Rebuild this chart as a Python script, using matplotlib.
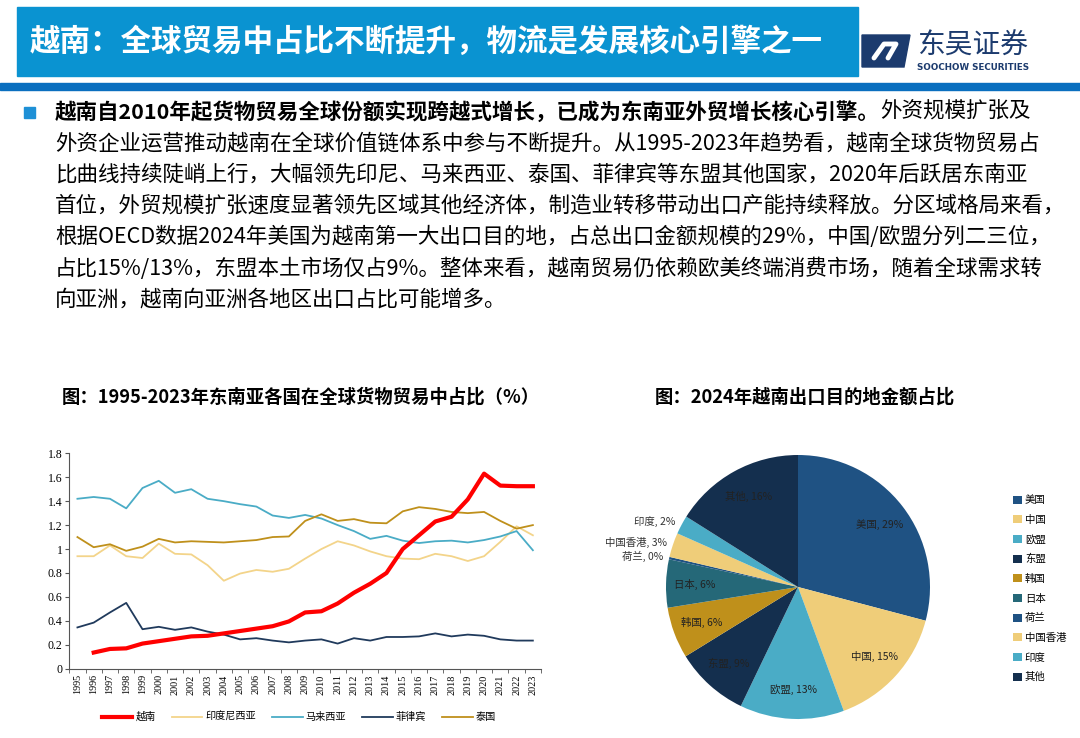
import numpy as np
import matplotlib.pyplot as plt
from matplotlib.patches import Rectangle, Polygon

plt.rcParams['font.family'] = ['Noto Sans CJK SC', 'DejaVu Sans']

# 东南亚各国在全球货物贸易中占比 (%), 1995-2023
years = list(range(1995, 2024))
vietnam = [np.nan, 0.135, 0.165, 0.17, 0.21, 0.23, 0.25, 0.27, 0.275, 0.295,
           0.315, 0.335, 0.355, 0.395, 0.47, 0.48, 0.545, 0.635, 0.71, 0.80,
           1.00, 1.115, 1.23, 1.27, 1.415, 1.63, 1.53, 1.525, 1.525]
indonesia = [0.94, 0.94, 1.03, 0.94, 0.925, 1.045, 0.96, 0.955, 0.865, 0.735,
             0.795, 0.825, 0.81, 0.835, 0.92, 1.00, 1.065, 1.03, 0.98, 0.94,
             0.92, 0.915, 0.96, 0.94, 0.90, 0.94, 1.06, 1.19, 1.115]
malaysia = [1.42, 1.435, 1.42, 1.34, 1.51, 1.57, 1.47, 1.50, 1.42, 1.40,
            1.375, 1.355, 1.28, 1.26, 1.285, 1.255, 1.20, 1.15, 1.085, 1.11,
            1.07, 1.05, 1.065, 1.07, 1.055, 1.075, 1.105, 1.15, 0.99]
philippines = [0.345, 0.385, 0.47, 0.55, 0.33, 0.35, 0.325, 0.345, 0.31, 0.285,
               0.245, 0.255, 0.235, 0.22, 0.235, 0.245, 0.21, 0.255, 0.235, 0.265,
               0.265, 0.27, 0.295, 0.27, 0.285, 0.275, 0.245, 0.235, 0.235]
thailand = [1.10, 1.015, 1.04, 0.985, 1.02, 1.085, 1.055, 1.065, 1.06, 1.055,
            1.065, 1.075, 1.10, 1.105, 1.235, 1.29, 1.235, 1.25, 1.22, 1.215,
            1.315, 1.35, 1.335, 1.31, 1.30, 1.31, 1.235, 1.17, 1.20]
series_names = ['越南', '印度尼西亚', '马来西亚', '菲律宾', '泰国']

# 2024年越南出口目的地金额占比 (%)
dest_names = ['美国', '中国', '欧盟', '东盟', '韩国', '日本', '荷兰', '中国香港', '印度', '其他']
dest_shares = [29.2, 15.3, 12.8, 9.1, 6.3, 5.9, 0.3, 3.0, 2.3, 16.1]
dest_colors = ['#1f5283', '#efcd79', '#4aacc6', '#142f4e', '#bf901b',
               '#256878', '#1f5283', '#efcd79', '#4aacc6', '#142f4e']
outside = ['荷兰', '中国香港', '印度']

title = '越南：全球贸易中占比不断提升，物流是发展核心引擎之一'
lead_bold = '越南自2010年起货物贸易全球份额实现跨越式增长，已成为东南亚外贸增长核心引擎。'
body_lines = [
    '外资规模扩张及',
    '外资企业运营推动越南在全球价值链体系中参与不断提升。从1995-2023年趋势看，越南全球货物贸易占',
    '比曲线持续陡峭上行，大幅领先印尼、马来西亚、泰国、菲律宾等东盟其他国家，2020年后跃居东南亚',
    '首位，外贸规模扩张速度显著领先区域其他经济体，制造业转移带动出口产能持续释放。分区域格局来看，',
    '根据OECD数据2024年美国为越南第一大出口目的地，占总出口金额规模的29%，中国/欧盟分列二三位，',
    '占比15%/13%，东盟本土市场仅占9%。整体来看，越南贸易仍依赖欧美终端消费市场，随着全球需求转',
    '向亚洲，越南向亚洲各地区出口占比可能增多。',
]

W, H = 1080, 738
fig = plt.figure(figsize=(W / 100, H / 100), dpi=100)

# background canvas in pixel coordinates
bg = fig.add_axes([0, 0, 1, 1])
bg.set_xlim(0, W)
bg.set_ylim(H, 0)
bg.axis('off')

# header
bg.add_patch(Rectangle((17, 7), 841, 69, color='#0a93d1'))
bg.add_patch(Rectangle((0, 82.5), W, 7, color='#0a6fbf'))
bg.text(30, 42, title, color='white', fontsize=22, weight='bold', va='center')

# logo
bg.add_patch(Polygon([(862, 35), (910, 35), (904, 67), (862, 67)], color='#1c3b6e'))
bg.plot([874, 884, 896, 888], [58, 44, 44, 58], color='white', lw=3.5,
        solid_capstyle='round')
bg.text(917, 46, '东吴证券', fontsize=20, color='#1c3b6e', va='center')
bg.text(917, 67, 'SOOCHOW SECURITIES', fontsize=6.3, weight='bold',
        color='#1c3b6e', va='center', family='DejaVu Sans')

# body text
fs = 15.5
bg.add_patch(Rectangle((24, 107), 11, 10.5, color='#1e90d6'))
line_y = 112
t1 = bg.text(55, line_y, lead_bold, fontsize=fs, weight='bold', va='center')
bg.annotate(body_lines[0], xy=(1, 0.5), xycoords=t1, fontsize=fs,
            va='center', ha='left')
for i, line in enumerate(body_lines[1:]):
    bg.text(55, line_y + 31.3 * (i + 1), line, fontsize=fs, va='center')

# chart titles
bg.text(62, 397, '图：1995-2023年东南亚各国在全球货物贸易中占比（%）',
        fontsize=13.2, weight='bold', va='center')
bg.text(655, 397, '图：2024年越南出口目的地金额占比',
        fontsize=13.2, weight='bold', va='center')

# line chart
ax = fig.add_axes([69.3 / W, 1 - 668.7 / H, 471.7 / W, 215.4 / H])
x = np.arange(len(years))
ax.plot(x, indonesia, color='#f3d48a', lw=1.3, label=series_names[1], zorder=2)
ax.plot(x, malaysia, color='#4aacc6', lw=1.3, label=series_names[2], zorder=2)
ax.plot(x, philippines, color='#203a5c', lw=1.3, label=series_names[3], zorder=2)
ax.plot(x, thailand, color='#bf901b', lw=1.3, label=series_names[4], zorder=2)
ax.plot(x, vietnam, color='#ff0000', lw=3, label=series_names[0], zorder=3)
ax.set_xlim(-0.5, len(years) - 0.5)
ax.set_ylim(0, 1.8)
ax.set_yticks(np.arange(0, 1.81, 0.2))
ax.set_yticklabels([f'{v:g}' for v in np.arange(0, 1.81, 0.2).round(1)],
                   family='Liberation Serif', fontsize=8.5)
ax.set_xticks(x)
ax.set_xticklabels([str(y) for y in years], rotation=90,
                   family='Liberation Serif', fontsize=7.3)
ax.set_xticks(np.arange(-0.5, len(years)), minor=True)
ax.tick_params(axis='x', which='major', length=0, pad=4)
ax.tick_params(axis='x', which='minor', length=3, color='#555555')
ax.tick_params(axis='y', length=3, color='#555555', pad=2)
for s in ['top', 'right']:
    ax.spines[s].set_visible(False)
for s in ['left', 'bottom']:
    ax.spines[s].set_color('#555555')
    ax.spines[s].set_linewidth(0.8)
handles, labels = ax.get_legend_handles_labels()
order = [4, 0, 1, 2, 3]
ax.legend([handles[i] for i in order], [labels[i] for i in order],
          loc='center', bbox_to_anchor=(299 / W, 1 - 717 / H),
          bbox_transform=fig.transFigure, ncol=5, frameon=False,
          fontsize=7.3, handlelength=3, columnspacing=1.6, handletextpad=0.3)

# pie chart
R = 132
axp = fig.add_axes([(798 - R) / W, 1 - (587 + R) / H, 2 * R / W, 2 * R / H])
wedges, _ = axp.pie(dest_shares, colors=dest_colors, startangle=90,
                    counterclock=False, radius=1)
axp.set_xlim(-1, 1)
axp.set_ylim(-1, 1)
axp.set_aspect('equal')
for w, name, share in zip(wedges, dest_names, dest_shares):
    ang = np.deg2rad((w.theta1 + w.theta2) / 2)
    lab = f'{name}, {share:.0f}%'
    if name in outside:
        axp.text(1.05 * np.cos(ang), 1.05 * np.sin(ang), lab, ha='right',
                 va='center', fontsize=7.5, color='#333333')
    else:
        axp.text(0.78 * np.cos(ang), 0.78 * np.sin(ang), lab, ha='center',
                 va='center', fontsize=7.5, color='#222222')
fig.legend(wedges, dest_names, loc='upper left',
           bbox_to_anchor=(1004 / W, 1 - 486 / H), frameon=False, fontsize=7.5,
           handlelength=0.8, handleheight=0.8, handletextpad=0.3,
           labelspacing=0.92)

fig.savefig('out.png', dpi=100)
